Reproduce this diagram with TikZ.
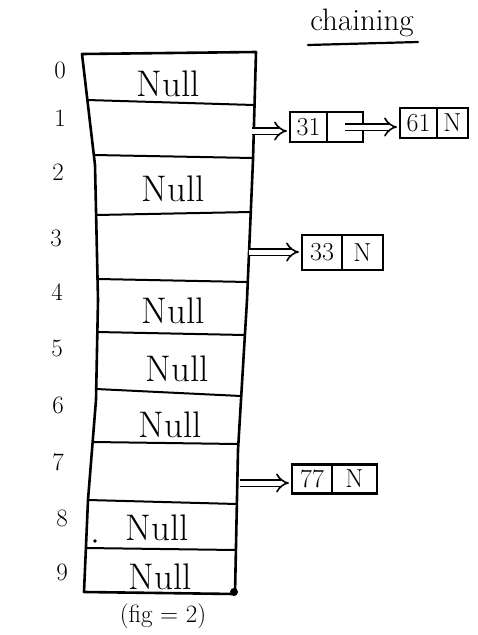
\documentclass[tikz,border=0pt]{standalone}
\usetikzlibrary{arrows.meta}
\begin{document}
\begin{tikzpicture}[x=1pt,y=-1pt,
  pen/.style={line width=2.6pt, line join=round, line cap=round},
  rowline/.style={line width=2pt, line cap=round},
  nulltxt/.style={font=\fontsize{37}{40}\selectfont},
  idx/.style={font=\fontsize{25}{28}\selectfont},
  cell/.style={draw, line width=2.2pt, inner sep=0pt, font=\fontsize{26}{28}\selectfont},
  dbl/.style={double, double distance=5pt, line width=1.6pt, -{Implies}, shorten >=2pt}]
\useasboundingbox (0,0) rectangle (477,635);
% table outline
\draw[pen] (82,54) -- (95,165) -- (98,300) -- (96,400) -- (88,500) -- (84,592)
  -- (235,594) -- (238,450) -- (247,300) -- (253,160) -- (256,52) -- cycle;
% row separators
\draw[rowline] (87,100) -- (254,105);
\draw[rowline] (94,155) -- (253,158);
\draw[rowline] (96,215) -- (251,212);
\draw[rowline] (98,279) -- (248,282);
\draw[rowline] (97,332) -- (245,335);
\draw[rowline] (96,389) -- (241,396);
\draw[rowline] (93,442) -- (238,444);
\draw[rowline] (88,500) -- (237,504);
\draw[rowline] (86,548) -- (236,550);
\fill (234,592) circle (4pt);
\fill (95,541) circle (1.8pt);
% index labels
\node[idx] (i0) at (60,70) {0};
\node[idx] (i1) at (60,118) {1};
\node[idx] (i2) at (58,172) {2};
\node[idx] (i3) at (56,238) {3};
\node[idx] (i4) at (57,292) {4};
\node[idx] (i5) at (57,348) {5};
\node[idx] (i6) at (58,405) {6};
\node[idx] (i7) at (58,462) {7};
\node[idx] (i8) at (62,518) {8};
\node[idx] (i9) at (62,572) {9};
% Null texts
\node[nulltxt] (r0) at (168,84) {Null};
\node[nulltxt] (r2) at (173,189) {Null};
\node[nulltxt] (r4) at (173,311) {Null};
\node[nulltxt] (r5) at (177,369) {Null};
\node[nulltxt] (r6) at (170,425) {Null};
\node[nulltxt] (r8) at (157,528) {Null};
\node[nulltxt] (r9) at (160,577) {Null};
% edge points
\coordinate (e1) at (252,131);
\coordinate (e3) at (249,252);
\coordinate (e7) at (240,483);
% list for slot 1
\node[cell, minimum width=37pt, minimum height=30pt] (k31) at (308.5,127) {31};
\node[cell, minimum width=36pt, minimum height=30pt] (p31) at (345,127) {};
\node[cell, minimum width=37pt, minimum height=30pt] (k61) at (418.5,123) {61};
\node[cell, minimum width=31pt, minimum height=30pt] (n61) at (452.5,123) {N};
\draw[dbl] (e1) -- (e1 -| k31.west);
\draw[dbl] (p31.center) -- (p31.center -| k61.west);
% slot 3
\node[cell, minimum width=40pt, minimum height=35pt] (k33) at (322,252.5) {33};
\node[cell, minimum width=41pt, minimum height=35pt] (n33) at (362.5,252.5) {N};
\draw[dbl] (e3) -- (e3 -| k33.west);
% slot 7
\node[cell, minimum width=40pt, minimum height=29pt] (k77) at (312,479) {77};
\node[cell, minimum width=45pt, minimum height=29pt] (n77) at (354.5,479) {N};
\draw[dbl] (e7) -- (e7 -| k77.west);
% title and caption
\node[font=\fontsize{31}{34}\selectfont] (title) at (362,23) {chaining};
\draw[line width=2.2pt, line cap=round] (308,45) -- (418,42);
\node[font=\fontsize{25}{28}\selectfont] (cap) at (163,616) {(fig = 2)};
\end{tikzpicture}
\end{document}
